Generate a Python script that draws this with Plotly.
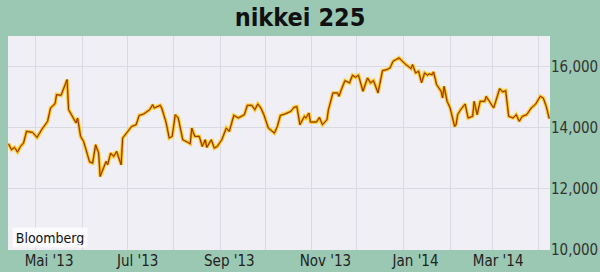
import plotly.graph_objects as go

dates = [
    "2013-04-13", "2013-04-15", "2013-04-17", "2013-04-19", "2013-04-21", "2013-04-23",
    "2013-04-25", "2013-04-29", "2013-05-02", "2013-05-05", "2013-05-09", "2013-05-11",
    "2013-05-14", "2013-05-15", "2013-05-18", "2013-05-22", "2013-05-23", "2013-05-25",
    "2013-05-28", "2013-05-29", "2013-05-31", "2013-06-02", "2013-06-04", "2013-06-06",
    "2013-06-08", "2013-06-10", "2013-06-12", "2013-06-13", "2013-06-17", "2013-06-18",
    "2013-06-20", "2013-06-22", "2013-06-24", "2013-06-27", "2013-06-28", "2013-07-02",
    "2013-07-04", "2013-07-07", "2013-07-09", "2013-07-12", "2013-07-16", "2013-07-18",
    "2013-07-19", "2013-07-23", "2013-07-24", "2013-07-27", "2013-07-29", "2013-07-31",
    "2013-08-02", "2013-08-04", "2013-08-07", "2013-08-10", "2013-08-12", "2013-08-13",
    "2013-08-15", "2013-08-18", "2013-08-20", "2013-08-22", "2013-08-23", "2013-08-26",
    "2013-08-28", "2013-08-30", "2013-09-02", "2013-09-05", "2013-09-07", "2013-09-10",
    "2013-09-13", "2013-09-17", "2013-09-19", "2013-09-22", "2013-09-24", "2013-09-26",
    "2013-09-28", "2013-09-30", "2013-10-03", "2013-10-07", "2013-10-09", "2013-10-11",
    "2013-10-14", "2013-10-18", "2013-10-20", "2013-10-22", "2013-10-23", "2013-10-24",
    "2013-10-27", "2013-10-28", "2013-10-30", "2013-10-31", "2013-11-04", "2013-11-06",
    "2013-11-08", "2013-11-11", "2013-11-12", "2013-11-15", "2013-11-18", "2013-11-19",
    "2013-11-21", "2013-11-23", "2013-11-26", "2013-11-27", "2013-11-28", "2013-11-30",
    "2013-12-02", "2013-12-05", "2013-12-08", "2013-12-10", "2013-12-12", "2013-12-15",
    "2013-12-18", "2013-12-21", "2013-12-23", "2013-12-25", "2013-12-29", "2014-01-02",
    "2014-01-06", "2014-01-07", "2014-01-09", "2014-01-11", "2014-01-13", "2014-01-15",
    "2014-01-17", "2014-01-18", "2014-01-20", "2014-01-21", "2014-01-23", "2014-01-26",
    "2014-01-27", "2014-01-28", "2014-01-30", "2014-02-01", "2014-02-04", "2014-02-05",
    "2014-02-06", "2014-02-08", "2014-02-11", "2014-02-13", "2014-02-16", "2014-02-17",
    "2014-02-19", "2014-02-21", "2014-02-24", "2014-02-25", "2014-02-28", "2014-03-02",
    "2014-03-06", "2014-03-08", "2014-03-10", "2014-03-12", "2014-03-15", "2014-03-17",
    "2014-03-19", "2014-03-21", "2014-03-24", "2014-03-27", "2014-03-30", "2014-04-02",
    "2014-04-04", "2014-04-06", "2014-04-08",
]

values = [
    13475, 13279, 13354, 13203, 13387, 13498,
    13879, 13846, 13682, 13934, 14207, 14646,
    14787, 15082, 15059, 15574, 14590, 14426,
    14154, 14318, 13715, 13551, 13235, 12880,
    12843, 13443, 13170, 12403, 12898, 12787,
    13170, 13060, 13224, 12787, 13661, 13934,
    14043, 14098, 14404, 14448, 14590, 14754,
    14645, 14732, 14645, 14153, 13661, 13716,
    14426, 14318, 13607, 13530, 13475, 13989,
    13716, 13716, 13387, 13607, 13354, 13607,
    13333, 13387, 13607, 13989, 13879, 14404,
    14318, 14426, 14732, 14732, 14590, 14776,
    14645, 14426, 13989, 13825, 14043, 14404,
    14448, 14535, 14666, 14689, 14426, 14098,
    14372, 14318, 14481, 14186, 14186, 14338,
    14098, 14262, 14590, 15137, 15137, 15027,
    15301, 15541, 15464, 15628, 15716, 15650,
    15716, 15191, 15628, 15464, 15541, 15137,
    15869, 15902, 15956, 16174, 16285, 16088,
    15934, 16066, 15793, 15846, 15470, 15793,
    15716, 15760, 15738, 15825, 15410, 15191,
    14973, 15355, 14863, 14645, 14043, 14098,
    14426, 14590, 14776, 14318, 14372, 14863,
    14426, 14863, 14863, 15027, 14809, 14645,
    15279, 15170, 15213, 14372, 14318, 14426,
    14207, 14372, 14426, 14645, 14776, 15027,
    14973, 14699, 14295,
]

x_tick_dates = ["2013-05-10", "2013-07-08", "2013-09-07", "2013-11-10", "2014-01-09", "2014-03-05"]
x_tick_labels = ["Mai '13", "Jul '13", "Sep '13", "Nov '13", "Jan '14", "Mar '14"]
y_tick_values = [10000, 12000, 14000, 16000]
y_tick_labels = ["10,000", "12,000", "14,000", "16,000"]

title_text = "nikkei 225"
source_text = "Bloomberg"

FONT = "DejaVu Sans Condensed, Roboto Condensed, Liberation Sans Narrow, Roboto, sans-serif"

fig = go.Figure()
fig.add_trace(go.Scatter(
    x=dates, y=values, mode="lines",
    line=dict(color="rgba(255,215,40,0.7)", width=4),
    hoverinfo="skip", showlegend=False,
))
fig.add_trace(go.Scatter(
    x=dates, y=values, mode="lines",
    line=dict(color="#f0a000", width=2.3),
    hoverinfo="skip", showlegend=False,
))
fig.add_trace(go.Scatter(
    x=dates, y=values, mode="lines",
    line=dict(color="#8a3208", width=1),
    showlegend=False,
))

fig.update_layout(
    width=600, height=272,
    margin=dict(l=8, r=50, t=36, b=22),
    paper_bgcolor="#9ac8b2",
    plot_bgcolor="#efeff5",
    font=dict(family=FONT, size=15, color="#222222"),
    title=dict(
        text="<b>" + title_text + "</b>",
        x=0.5, xanchor="center", xref="container",
        y=1 - 17 / 272, yanchor="middle", yref="container",
        font=dict(family=FONT, size=25, color="#111111"),
    ),
    xaxis=dict(
        type="date",
        range=["2013-04-12 16:00", "2014-04-08 12:00"],
        tickvals=x_tick_dates, ticktext=x_tick_labels,
        showgrid=False, zeroline=False, showline=False,
        ticks="", ticklen=0, automargin=False,
        tickfont=dict(family=FONT, size=15, color="#222222"),
        minor=dict(dtick="M1", tick0="2013-05-01", showgrid=True,
                   gridcolor="#dadae2", gridwidth=1, ticks=""),
        fixedrange=True,
    ),
    yaxis=dict(
        side="right",
        range=[10000, 17000],
        tickvals=y_tick_values, ticktext=y_tick_labels,
        showgrid=True, gridcolor="#dadae2", gridwidth=1,
        zeroline=False, showline=False, ticks="", automargin=False,
        tickfont=dict(family=FONT, size=15, color="#333333"),
        fixedrange=True,
    ),
    annotations=[dict(
        text=source_text,
        xref="paper", yref="paper",
        x=4 / 542, y=2 / 214, xanchor="left", yanchor="bottom",
        showarrow=False,
        bgcolor="#fbfbfd",
        borderpad=2,
        width=70, height=15, align="center",
        font=dict(family=FONT, size=14, color="#111111"),
    )],
)

fig.write_html("out.html")
